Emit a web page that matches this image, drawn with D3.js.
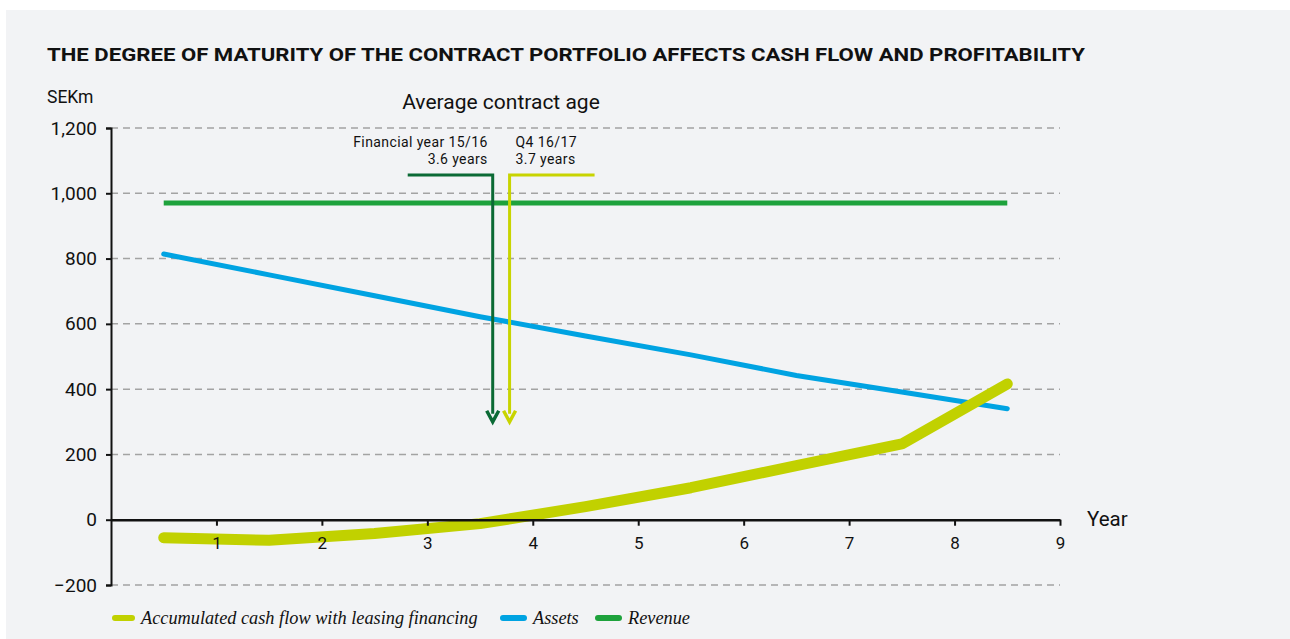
<!DOCTYPE html>
<html>
<head>
<meta charset="utf-8">
<script src="https://cdn.jsdelivr.net/npm/d3@7"></script>
<style>
  body { margin: 0; background: #fff; }
  svg { display: block; }
</style>
</head>
<body>
<svg id="chart"></svg>
<script>
// data
const years = [0.5, 1.5, 2.5, 3.5, 4.5, 5.5, 6.5, 7.5, 8.5];
const cashFlow = [-55, -63, -42, -12, 40, 98, 166, 232, 416];
const assets = [814, 750, 686, 622, 563, 505, 442, 391, 340];
const revenue = [970, 970, 970, 970, 970, 970, 970, 970, 970];
const xTicks = [1, 2, 3, 4, 5, 6, 7, 8, 9];
const yTicks = [-200, 0, 200, 400, 600, 800, 1000, 1200];
const ageX = [3.62, 3.78];
const ageLabels = [["Financial year 15/16", "3.6 years"], ["Q4 16/17", "3.7 years"]];
const ageColors = ["#0b6a35", "#c8d400"];
const arrowEnd = 300;
const legendNames = ["Accumulated cash flow with leasing financing", "Assets", "Revenue"];
const legendColors = ["#c1d100", "#00a3e2", "#1ea23c"];

const width = 1290, height = 639;
const svg = d3.select('#chart').attr('width', width).attr('height', height);

svg.append('rect').attr('x', 6).attr('y', 10).attr('width', width - 6).attr('height', height - 10)
    .attr('fill', '#f2f3f5');

const x = d3.scaleLinear().domain([0, 9]).range([111, 1060]);
const y = d3.scaleLinear().domain([-200, 1200]).range([585, 128]);

const sans = 'Roboto, sans-serif';

// title
svg.append('text').attr('x', 47).attr('y', 61)
    .attr('font-family', sans).attr('font-weight', 700).attr('font-size', 19)
    .attr('textLength', 1038).attr('lengthAdjust', 'spacingAndGlyphs')
    .attr('fill', '#111')
    .text('THE DEGREE OF MATURITY OF THE CONTRACT PORTFOLIO AFFECTS CASH FLOW AND PROFITABILITY');

svg.append('text').attr('x', 47).attr('y', 103).attr('font-family', sans).attr('font-size', 17.5)
    .attr('fill', '#111').text('SEKm');

svg.append('text').attr('x', 501).attr('y', 109).attr('text-anchor', 'middle')
    .attr('font-family', sans).attr('font-size', 21).attr('fill', '#111').text('Average contract age');

// gridlines
svg.append('g').selectAll('line').data(yTicks.filter(d => d !== 0)).join('line')
    .attr('x1', x(0)).attr('x2', x(9))
    .attr('y1', d => y(d)).attr('y2', d => y(d))
    .attr('stroke', '#a3a3a3').attr('stroke-width', 1.5).attr('stroke-dasharray', '7,5');

// series
const line = d3.line().x((d, i) => x(years[i])).y(d => y(d));
svg.append('path').datum(revenue).attr('d', line).attr('fill', 'none')
    .attr('stroke', legendColors[2]).attr('stroke-width', 5);
svg.append('path').datum(assets).attr('d', line).attr('fill', 'none')
    .attr('stroke', legendColors[1]).attr('stroke-width', 5).attr('stroke-linecap', 'round');
svg.append('path').datum(cashFlow).attr('d', line).attr('fill', 'none')
    .attr('stroke', legendColors[0]).attr('stroke-width', 11)
    .attr('stroke-linecap', 'round').attr('stroke-linejoin', 'round');

// y axis
const yAxis = svg.append('g').attr('transform', `translate(${x(0)},0)`)
    .call(d3.axisLeft(y).tickValues(yTicks).tickSize(5).tickPadding(9).tickFormat(d3.format(',')));
yAxis.select('.domain').attr('stroke', '#111').attr('stroke-width', 2);
yAxis.selectAll('.tick line').attr('stroke', '#111').attr('stroke-width', 2);
yAxis.selectAll('.tick text').attr('font-family', sans).attr('font-size', 19).attr('fill', '#111');

// x axis
const xAxis = svg.append('g').attr('transform', `translate(0,${y(0)})`)
    .call(d3.axisBottom(x).tickValues(xTicks).tickSize(6).tickPadding(11).tickSizeOuter(0));
xAxis.select('.domain').attr('stroke', '#111').attr('stroke-width', 2.5);
xAxis.selectAll('.tick line').attr('stroke', '#111').attr('stroke-width', 2);
xAxis.selectAll('.tick text').attr('font-family', sans).attr('font-size', 17).attr('fill', '#111');

svg.append('text').attr('x', 1087).attr('y', 526).attr('font-family', sans).attr('font-size', 20.5)
    .attr('fill', '#111').text('Year');

// contract age arrows
const armY = 175, armLen = 85;
ageX.forEach((a, i) => {
    const px = x(a);
    const g = svg.append('g');
    const dir = i === 0 ? -1 : 1;
    const tip = y(arrowEnd);
    g.append('path')
        .attr('d', `M${px + dir * armLen},${armY}H${px}V${tip - 8}`)
        .attr('fill', 'none').attr('stroke', ageColors[i]).attr('stroke-width', 3);
    g.append('path')
        .attr('d', `M${px - 6},${tip - 11}L${px},${tip}L${px + 6},${tip - 11}`)
        .attr('fill', 'none').attr('stroke', ageColors[i]).attr('stroke-width', 3.5);
    const tx = i === 0 ? px - 5 : px + 6;
    ageLabels[i].forEach((t, j) => {
        g.append('text').attr('x', tx).attr('y', 147 + j * 16.5)
            .attr('text-anchor', i === 0 ? 'end' : 'start')
            .attr('font-family', sans).attr('font-size', 14).attr('letter-spacing', 0.4)
            .attr('fill', '#111').text(t);
    });
});

// legend
const legendX = [112, 500, 595];
const legendW = [23, 27, 27];
const legend = svg.append('g');
legendNames.forEach((n, i) => {
    legend.append('line').attr('x1', legendX[i] + 3).attr('x2', legendX[i] + legendW[i] - 3)
        .attr('y1', 618).attr('y2', 618)
        .attr('stroke', legendColors[i]).attr('stroke-width', 6).attr('stroke-linecap', 'round');
    legend.append('text').attr('x', legendX[i] + legendW[i] + 6).attr('y', 624)
        .attr('font-family', '"Liberation Serif", serif').attr('font-style', 'italic')
        .attr('font-size', 18.3).attr('fill', '#111').text(n);
});
</script>
</body>
</html>
